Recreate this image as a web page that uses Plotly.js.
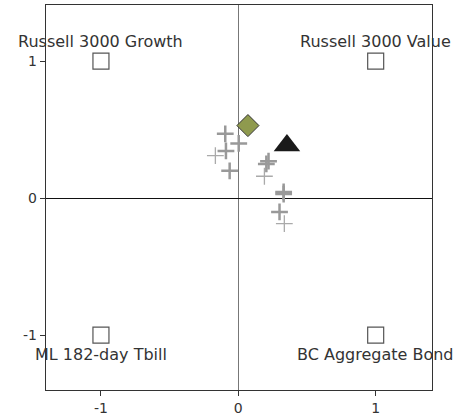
<!DOCTYPE html>
<html><head><meta charset="utf-8">
<script src="https://cdn.plot.ly/plotly-3.0.1.min.js"></script>
<style>html,body{margin:0;padding:0;background:#fff}</style>
</head><body><div id="chart" style="width:463px;height:419px"></div>
<script>
// Style-analysis reference indices
var refNames = ["Russell 3000 Growth", "Russell 3000 Value", "ML 182-day Tbill", "BC Aggregate Bond"];
var refX = [-1, 1, -1, 1];
var refY = [1, 1, -1, -1];
var refLabelY = [1.14, 1.14, -1.14, -1.14];

// Fund points (bold crosses)
var boldX = [-0.095, 0.003, -0.09, -0.063, 0.22, 0.204, 0.33, 0.33, 0.30];
var boldY = [0.47, 0.40, 0.345, 0.20, 0.27, 0.25, 0.046, 0.03, -0.10];
// Fund points (thin crosses)
var thinX = [-0.167, 0.19, 0.335];
var thinY = [0.31, 0.16, -0.185];
// Highlighted points
var diamondX = [0.07], diamondY = [0.53];
var triangleX = [0.354], triangleY = [0.385];

var font = "DejaVu Sans";
var traces = [
  {x: refX, y: refY, mode: "markers", type: "scatter",
   marker: {symbol: "square-open", size: 16, color: "#555", line: {width: 1.2}}},
  {x: boldX, y: boldY, mode: "markers", type: "scatter",
   marker: {symbol: "cross-thin-open", size: 12, color: "#999", line: {width: 2.5, color: "#999"}}},
  {x: thinX, y: thinY, mode: "markers", type: "scatter",
   marker: {symbol: "cross-thin-open", size: 12, color: "#aaa", line: {width: 1.3, color: "#aaa"}}},
  {x: diamondX, y: diamondY, mode: "markers", type: "scatter",
   marker: {symbol: "diamond", size: 17, color: "#8f9a4e", line: {width: 1, color: "#333"}}},
  {x: triangleX, y: triangleY, mode: "markers", type: "scatter",
   marker: {symbol: "triangle-up", size: 23, color: "#1a1a1a", line: {width: 0}}}
];
var annotations = refNames.map(function(n, i){
  return {x: refX[i], y: refLabelY[i], text: n, showarrow: false, xanchor: "center",
          yanchor: "middle", font: {family: font, size: 16, color: "#333"}};
});
var layout = {
  width: 463, height: 419, showlegend: false,
  margin: {l: 46, r: 31, t: 5, b: 29},
  paper_bgcolor: "#fff", plot_bgcolor: "#fff",
  font: {family: font, size: 14, color: "#333"},
  xaxis: {range: [-1.4, 1.41], tickvals: [-1, 0, 1], ticktext: ["-1", "0", "1"],
          ticks: "outside", ticklen: 5, tickcolor: "#333", showgrid: false,
          zeroline: true, zerolinecolor: "#777", zerolinewidth: 1.5,
          showline: true, linecolor: "#333", mirror: true, linewidth: 1.2},
  yaxis: {range: [-1.4, 1.41], tickvals: [-1, 0, 1], ticktext: ["-1", "0", "1"],
          ticks: "outside", ticklen: 5, tickcolor: "#333", showgrid: false,
          zeroline: true, zerolinecolor: "#111", zerolinewidth: 1.2,
          showline: true, linecolor: "#333", mirror: true, linewidth: 1.2},
  annotations: annotations
};
Plotly.newPlot("chart", traces, layout, {displayModeBar: false, staticPlot: true});
</script></body></html>
